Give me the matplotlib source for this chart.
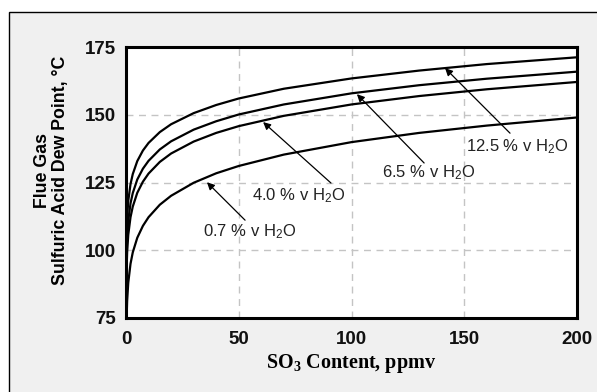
import numpy as np
import matplotlib
matplotlib.use("Agg")
from matplotlib import pyplot as plt
from matplotlib.patches import Rectangle

# SO3 content (ppmv) and dew point (degC)
so3 = [0.003, 0.01, 0.05, 0.1, 0.2, 0.5, 1, 2, 3, 5, 7.5, 10, 15, 20,
       30, 40, 50, 70, 100, 130, 160, 200]
dew_125 = [72.9, 81.4, 93.4, 98.9, 104.5, 112.1, 118.2, 124.4, 128.1, 132.9,
           136.8, 139.6, 143.6, 146.5, 150.6, 153.6, 156.0, 159.6, 163.4,
           166.3, 168.7, 171.2]
dew_65 = [64.5, 73.2, 85.5, 91.0, 96.8, 104.7, 110.9, 117.3, 121.1, 126.1,
          130.1, 133.0, 137.2, 140.2, 144.5, 147.6, 150.1, 153.8, 157.9,
          160.9, 163.3, 165.9]
dew_40 = [58.5, 67.3, 79.8, 85.4, 91.3, 99.3, 105.7, 112.2, 116.1, 121.2,
          125.3, 128.3, 132.6, 135.7, 140.1, 143.3, 145.8, 149.6, 153.8,
          156.9, 159.4, 162.1]
dew_07 = [38.7, 47.8, 60.8, 66.7, 72.9, 81.3, 88.0, 95.0, 99.2, 104.6,
          109.0, 112.2, 116.8, 120.1, 124.9, 128.4, 131.1, 135.3, 139.9,
          143.3, 146.0, 149.0]

labels = ["12.5 % v H$\\mathregular{_2}$O", "6.5 % v H$\\mathregular{_2}$O",
          "4.0 % v H$\\mathregular{_2}$O", "0.7 % v H$\\mathregular{_2}$O"]
label_xy = [(150.8, 138.1), (113.5, 128.5), (55.9, 120.3), (34.1, 106.7)]
arrow_head = [(141.5, 167.2), (102.4, 157.6), (60.8, 147.3), (35.9, 125.1)]
arrow_tail = [(170.3, 143.2), (132.2, 132.2), (90.9, 124.8), (52.8, 111.1)]

fig = plt.figure(figsize=(5.97, 3.92), dpi=100)
fig.patch.set_facecolor("white")
fig.patches.append(Rectangle((9/597, -0.1), 1.2, 1 - 12/392 + 0.1,
                             transform=fig.transFigure, facecolor="#f0f0f0",
                             edgecolor="black", lw=1.0, zorder=-5))

ax = fig.add_axes([126/597, 1 - 318/392, 451/597, 271/392])
ax.set_zorder(1)
ax.set_facecolor("white")
for y in (dew_125, dew_65, dew_40, dew_07):
    ax.plot(so3, y, color="black", lw=1.6, solid_capstyle="round")

ax.set_xlim(0, 200)
ax.set_ylim(75, 175)
ax.set_xticks([0, 50, 100, 150, 200])
ax.set_yticks([75, 100, 125, 150, 175])
ax.grid(True, ls=(0, (5, 4)), color="#c4c4c4", lw=1.0)
ax.set_axisbelow(True)
for s in ax.spines.values():
    s.set_linewidth(2.2)
ax.tick_params(length=0, labelsize=13.5, labelcolor="#111111")
ax.tick_params(axis="y", pad=7)
ax.tick_params(axis="x", pad=9)
for t in ax.get_xticklabels() + ax.get_yticklabels():
    t.set_fontfamily("Liberation Sans")
    t.set_fontweight("bold")

for lab, (tx, ty), head, tail in zip(labels, label_xy, arrow_head, arrow_tail):
    ax.annotate("", xy=head, xytext=tail,
                arrowprops=dict(arrowstyle="-|>", color="black", lw=0.9,
                                mutation_scale=11, shrinkA=0, shrinkB=0))
    ax.text(tx, ty, lab, ha="left", va="center", fontsize=12,
            family="Liberation Sans", color="#222222")

fig.text(51.5/597, 1 - 170/392, "Flue Gas\nSulfuric Acid Dew Point, \u00b0C",
         rotation=90, ha="center", va="center", fontsize=12.8,
         family="Liberation Sans", fontweight="bold", linespacing=1.15)
fig.text(351.5/597, 1 - 368/392, "SO$\\mathregular{_3}$ Content, ppmv",
         ha="center", va="baseline", fontsize=14.5,
         family="Liberation Serif", fontweight="bold")

fig.savefig("out.png", dpi=100)
